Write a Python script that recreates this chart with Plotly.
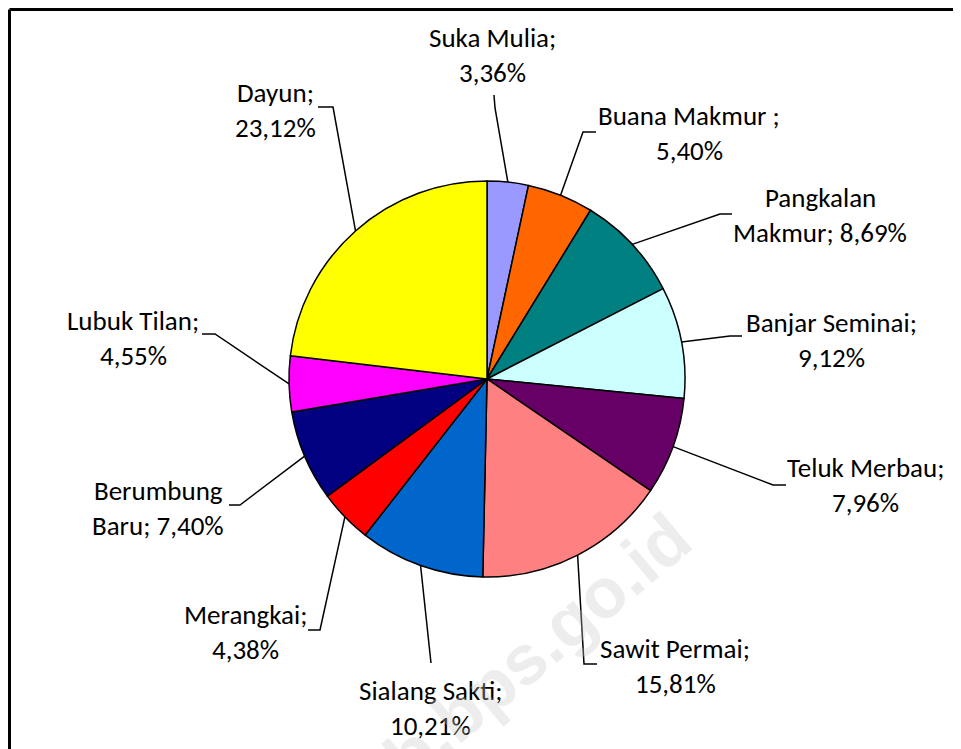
import math
import plotly.graph_objects as go

# ---- data ----
villages = ["Suka Mulia", "Buana Makmur ", "Pangkalan Makmur", "Banjar Seminai", "Teluk Merbau",
            "Sawit Permai", "Sialang Sakti", "Merangkai", "Berumbung Baru", "Lubuk Tilan", "Dayun"]
shares = [3.36, 5.40, 8.69, 9.12, 7.96, 15.81, 10.21, 4.38, 7.40, 4.55, 23.12]
colors = ["#9999FF", "#FF6600", "#008080", "#CCFFFF", "#660066", "#FF8080",
          "#0066CC", "#FF0000", "#000080", "#FF00FF", "#FFFF00"]

# label text split into two lines (as in the original)
label_line1 = ["Suka Mulia;", "Buana Makmur ;", "Pangkalan", "Banjar Seminai;", "Teluk Merbau;",
               "Sawit Permai;", "Sialang Sakti;", "Merangkai;", "Berumbung", "Lubuk Tilan;", "Dayun;"]
label_line2 = ["{}%", "{}%", "Makmur; {}%", "{}%", "{}%", "{}%", "{}%", "{}%", "Baru; {}%", "{}%", "{}%"]

# ---- layout (screen pixel positions) ----
W, H = 961, 749
OFF = 8  # page body margin
CX, CY, R = 487, 379, 198
label_pos = [(492, 37), (689, 115), (820, 197), (831, 322), (865, 467),
             (675, 648), (430, 690), (245, 614), (158, 490), (133, 320), (275, 92)]
LINE_GAP = 35
elbows = [(495, 108), (583, 132), (720, 214), (730, 336), (773, 485),
          (584, 664), (431, 663), (320, 630), (240, 505), (215, 334), (333, 107)]
tails = [(494, 95), (596, 132), (732, 214), (742, 336), (786, 485),
         (597, 664), (431, 663), (308, 630), (229, 505), (202, 334), (318, 107)]

FONT = "Carlito, 'Liberation Sans Narrow', 'Arial Narrow', 'Open Sans', sans-serif"
FS = 27

fig = go.Figure()
fig.add_trace(go.Pie(
    labels=villages, values=shares, sort=False, direction="clockwise", rotation=0,
    marker=dict(colors=colors, line=dict(color="black", width=1.5)),
    textinfo="none", hoverinfo="label+percent", showlegend=False,
    domain=dict(x=[(CX - R - OFF) / W, (CX + R - OFF) / W],
                y=[1 - (CY + R - OFF) / H, 1 - (CY - R - OFF) / H]),
))

# leader lines computed from slice mid-angles
total = sum(shares)
cum = 0.0
for i, v in enumerate(shares):
    mid = (cum + v / 2) / total * 2 * math.pi
    cum += v
    ex, ey = CX + R * math.sin(mid), CY - R * math.cos(mid)
    bx, by = elbows[i]
    tx, ty = tails[i]
    fig.add_trace(go.Scatter(x=[ex, bx, tx], y=[ey, by, ty], mode="lines",
                             line=dict(color="black", width=1.5), hoverinfo="skip", showlegend=False))

def fmt(v):
    return ("%.2f" % v).replace(".", ",")

for i, v in enumerate(shares):
    x, y = label_pos[i]
    fig.add_annotation(x=x, y=y, text=label_line1[i], showarrow=False, xref="x", yref="y",
                       font=dict(family=FONT, size=FS, color="black"))
    fig.add_annotation(x=x, y=y + LINE_GAP, text=label_line2[i].format(fmt(v)), showarrow=False,
                       xref="x", yref="y", font=dict(family=FONT, size=FS, color="black"))

# watermark
fig.add_annotation(x=455, y=717, text="<b>siakkab.bps.go.id</b>", showarrow=False, xref="x", yref="y",
                   textangle=-40, font=dict(family="Arial, sans-serif", size=70, color="rgba(200,200,200,0.32)"))

# frame (left and top edges visible)
fig.add_shape(type="line", x0=9.5, y0=9.5, x1=9.5, y1=H + OFF, xref="x", yref="y", line=dict(color="black", width=3))
fig.add_shape(type="line", x0=9.5, y0=9.5, x1=W + OFF, y1=9.5, xref="x", yref="y", line=dict(color="black", width=3))

fig.update_layout(
    width=W, height=H, margin=dict(l=0, r=0, t=0, b=0),
    paper_bgcolor="white", plot_bgcolor="white",
    xaxis=dict(range=[OFF, W + OFF], visible=False, fixedrange=True, domain=[0, 1]),
    yaxis=dict(range=[H + OFF, OFF], visible=False, fixedrange=True, domain=[0, 1]),
)
fig.write_html("out.html")
